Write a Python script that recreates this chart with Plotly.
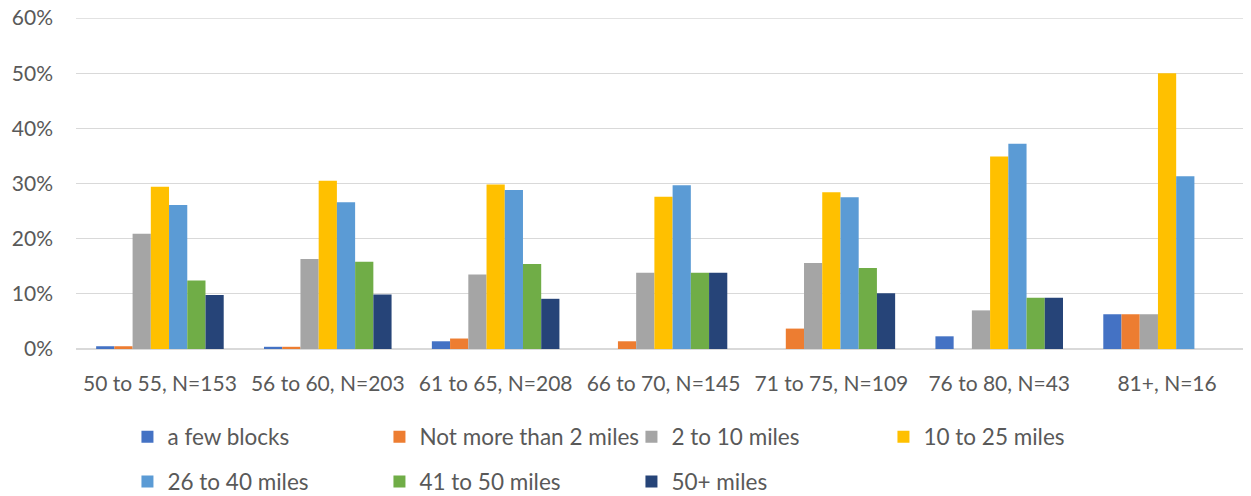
import plotly.graph_objects as go

categories = ["50 to 55, N=153", "56 to 60, N=203", "61 to 65, N=208", "66 to 70, N=145",
              "71 to 75, N=109", "76 to 80, N=43", "81+, N=16"]

few_blocks = [0.5, 0.4, 1.4, 0, 0, 2.3, 6.3]
max_2_miles = [0.5, 0.4, 1.9, 1.4, 3.7, 0, 6.3]
miles_2_10 = [20.9, 16.3, 13.5, 13.8, 15.6, 7.0, 6.3]
miles_10_25 = [29.4, 30.5, 29.8, 27.6, 28.4, 34.9, 50.0]
miles_26_40 = [26.1, 26.6, 28.8, 29.7, 27.5, 37.2, 31.3]
miles_41_50 = [12.4, 15.8, 15.4, 13.8, 14.7, 9.3, 0]
miles_50_plus = [9.8, 9.9, 9.1, 13.8, 10.1, 9.3, 0]

series_names = ["a few blocks", "Not more than 2 miles", "2 to 10 miles", "10 to 25 miles",
                "26 to 40 miles", "41 to 50 miles", "50+ miles"]
series_values = [few_blocks, max_2_miles, miles_2_10, miles_10_25, miles_26_40, miles_41_50, miles_50_plus]
colors = ["#4472C4", "#ED7D31", "#A5A5A5", "#FFC000", "#5B9BD5", "#70AD47", "#264478"]

FONT = "Lato"
TXT = "#595959"

fig = go.Figure()
for i, (name, vals, col) in enumerate(zip(series_names, series_values, colors)):
    fig.add_trace(go.Bar(
        x=categories, y=vals, name=name, marker_color=col,
        marker_line_width=0,
        legend="legend" if i < 4 else "legend2",
    ))

legend_common = dict(
    orientation="h", xanchor="left", yanchor="middle",
    xref="container", yref="container",
    font=dict(family=FONT, size=22.5, color=TXT),
    entrywidth=207, entrywidthmode="pixels",
    bgcolor="rgba(0,0,0,0)", itemclick=False,
)

# the page adds an 8px body margin, so the figure is sized to end at the window edge
fig.update_layout(
    width=1243, height=488,
    margin=dict(l=68, r=0, t=10, b=147, autoexpand=False),
    paper_bgcolor="white", plot_bgcolor="white",
    barmode="group", bargap=0.24, bargroupgap=0,
    font=dict(family=FONT, size=21, color=TXT),
    showlegend=True,
    legend=dict(x=0.0961, y=0.1209, **legend_common),
    legend2=dict(x=0.0961, y=0.0287, **legend_common),
    xaxis=dict(showgrid=False, showline=False, ticks="", ticklabelstandoff=20,
               automargin=False,
               tickfont=dict(family=FONT, size=21, color=TXT)),
    yaxis=dict(range=[0, 60], dtick=10, ticksuffix="%", showgrid=True,
               gridcolor="#D9D9D9", gridwidth=1.3, zeroline=True,
               zerolinecolor="#D9D9D9", zerolinewidth=1.8, showline=False,
               ticks="", ticklabelstandoff=22, automargin=False,
               ticklabeloverflow="allow",
               tickfont=dict(family=FONT, size=21, color=TXT)),
    shapes=[dict(type="line", xref="paper", yref="y", x0=0, x1=1, y0=60, y1=60,
                 line=dict(color="#D9D9D9", width=1.3), layer="below")],
)

fig.write_html("out.html")
